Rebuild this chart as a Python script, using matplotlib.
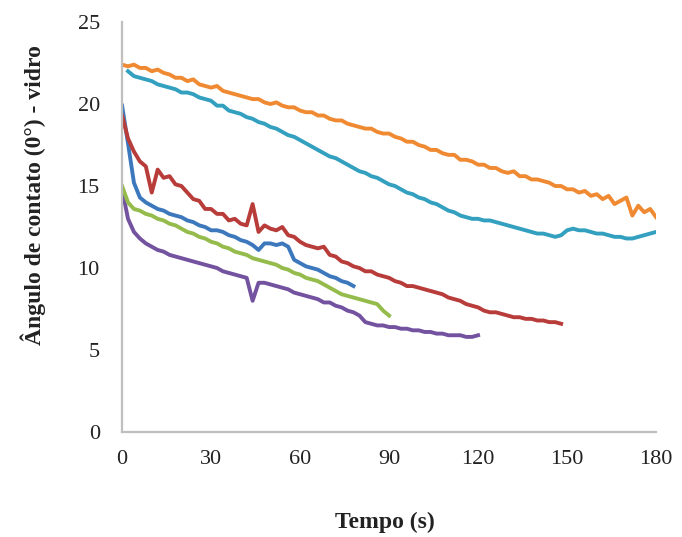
import numpy as np
import matplotlib
matplotlib.use('Agg')
from matplotlib import pyplot as plt

# contact angle on glass (2 s steps)
t_orange = np.arange(0, 181, 2)
orange = [22.4, 22.3, 22.4, 22.2, 22.2, 22.0, 22.1, 21.9, 21.8, 21.6, 21.6,
          21.4, 21.5, 21.2, 21.1, 21.0, 21.1, 20.8, 20.7, 20.6, 20.5,
          20.4, 20.3, 20.3, 20.1, 20.0, 20.1, 19.9, 19.8, 19.8, 19.6,
          19.5, 19.5, 19.3, 19.3, 19.1, 19.0, 19.0, 18.8, 18.7, 18.6,
          18.5, 18.5, 18.3, 18.2, 18.2, 18.0, 17.9, 17.7, 17.7, 17.5,
          17.4, 17.2, 17.2, 17.0, 16.9, 16.9, 16.6, 16.6, 16.5, 16.3,
          16.3, 16.1, 16.1, 15.9, 15.8, 15.9, 15.6, 15.6, 15.4, 15.4,
          15.3, 15.2, 15.0, 15.0, 14.8, 14.8, 14.6, 14.7, 14.4, 14.5,
          14.2, 14.4, 13.9, 14.1, 14.3, 13.2, 13.8, 13.4, 13.6, 13.1]

t_cyan = np.arange(2, 181, 2)
cyan = [22.0, 21.7, 21.6, 21.5, 21.4, 21.2, 21.1, 21.0, 20.9, 20.7,
        20.7, 20.6, 20.4, 20.3, 20.2, 19.9, 19.9, 19.6, 19.5, 19.4,
        19.2, 19.1, 18.9, 18.8, 18.6, 18.5, 18.3, 18.1, 18.0, 17.8,
        17.6, 17.4, 17.2, 17.0, 16.8, 16.7, 16.5, 16.3, 16.1, 15.9,
        15.8, 15.6, 15.5, 15.3, 15.1, 15.0, 14.8, 14.6, 14.5, 14.3,
        14.2, 14.0, 13.9, 13.7, 13.5, 13.4, 13.2, 13.1, 13.0, 13.0,
        12.9, 12.9, 12.8, 12.7, 12.6, 12.5, 12.4, 12.3, 12.2, 12.1,
        12.1, 12.0, 11.9, 12.0, 12.3, 12.4, 12.3, 12.3, 12.2, 12.1,
        12.1, 12.0, 11.9, 11.9, 11.8, 11.8, 11.9, 12.0, 12.1, 12.2]

t_red = np.arange(0, 149, 2)
red = [19.3, 17.9, 17.1, 16.5, 16.2, 14.6, 16.0, 15.5, 15.6, 15.1, 15.0,
       14.6, 14.2, 14.1, 13.6, 13.6, 13.3, 13.3, 12.9, 13.0, 12.7,
       12.6, 13.9, 12.2, 12.6, 12.4, 12.3, 12.5, 12.0, 11.9, 11.6,
       11.4, 11.3, 11.2, 11.3, 10.8, 10.7, 10.4, 10.3, 10.1, 10.0,
       9.8, 9.8, 9.6, 9.5, 9.4, 9.2, 9.1, 8.9, 8.9, 8.8,
       8.7, 8.6, 8.5, 8.4, 8.2, 8.1, 8.0, 7.8, 7.7, 7.6,
       7.4, 7.3, 7.3, 7.2, 7.1, 7.0, 7.0, 6.9, 6.9, 6.8,
       6.8, 6.7, 6.7, 6.6]

t_blue = np.arange(0, 79, 2)
blue = [19.9, 17.6, 15.2, 14.3, 14.0, 13.8, 13.6, 13.5, 13.3, 13.2,
        13.1, 12.9, 12.8, 12.6, 12.5, 12.3, 12.3, 12.2, 12.0, 11.9,
        11.7, 11.6, 11.4, 11.1, 11.5, 11.5, 11.4, 11.5, 11.3, 10.5,
        10.3, 10.1, 10.0, 9.9, 9.7, 9.5, 9.4, 9.2, 9.1, 8.9]

t_green = np.arange(0, 91, 2)
green = [15.0, 14.0, 13.6, 13.5, 13.3, 13.2, 13.0, 12.9, 12.7, 12.6,
         12.4, 12.2, 12.1, 11.9, 11.8, 11.6, 11.5, 11.3, 11.2, 11.0,
         10.9, 10.8, 10.6, 10.5, 10.4, 10.3, 10.2, 10.0, 9.9, 9.7,
         9.6, 9.4, 9.3, 9.2, 9.0, 8.8, 8.6, 8.4, 8.3, 8.2,
         8.1, 8.0, 7.9, 7.8, 7.4, 7.1]

t_purple = np.arange(0, 121, 2)
purple = [14.8, 13.0, 12.2, 11.8, 11.5, 11.3, 11.1, 11.0, 10.8, 10.7,
          10.6, 10.5, 10.4, 10.3, 10.2, 10.1, 10.0, 9.8, 9.7, 9.6,
          9.5, 9.4, 8.0, 9.1, 9.1, 9.0, 8.9, 8.8, 8.7, 8.5,
          8.4, 8.3, 8.2, 8.1, 7.9, 7.9, 7.7, 7.6, 7.4, 7.3,
          7.1, 6.7, 6.6, 6.5, 6.5, 6.4, 6.4, 6.3, 6.3, 6.2,
          6.2, 6.1, 6.1, 6.0, 6.0, 5.9, 5.9, 5.9, 5.8, 5.8, 5.9]

x_ticks = [0, 30, 60, 90, 120, 150, 180]
y_ticks = [0, 5, 10, 15, 20, 25]

plt.rcParams['font.family'] = ['Liberation Serif', 'DejaVu Serif']

fig = plt.figure(figsize=(6.82, 5.37), dpi=100)
ax = fig.add_axes([0.179, 0.1955, 0.783, 0.7635])

lw = 2.8
ax.plot(t_purple, purple, color='#7352a0', lw=lw)
ax.plot(t_green, green, color='#94bb4c', lw=lw)
ax.plot(t_blue, blue, color='#3d78bd', lw=lw)
ax.plot(t_red, red, color='#b83c3a', lw=lw)
ax.plot(t_cyan, cyan, color='#33a0c0', lw=lw)
ax.plot(t_orange, orange, color='#f08a32', lw=lw)

ax.set_xlim(0, 180)
ax.set_ylim(0, 25)
ax.set_xticks(x_ticks)
ax.set_yticks(y_ticks)
ax.tick_params(length=0, labelsize=16, colors='#222222')
ax.tick_params(axis='x', pad=13)
ax.tick_params(axis='y', pad=16)

for s in ['top', 'right']:
    ax.spines[s].set_visible(False)
for s in ['left', 'bottom']:
    ax.spines[s].set_color('#bfbfbf')
    ax.spines[s].set_linewidth(1.6)

ax.set_xlabel('Tempo (s)', fontsize=17, fontweight='bold', color='#222222')
ax.set_ylabel('Ângulo de contato (0°) - vidro', fontsize=17, fontweight='bold', color='#222222')
ax.xaxis.set_label_coords(0.4925, -0.195)
ax.yaxis.set_label_coords(-0.142, 0.577)

fig.savefig('out.png', dpi=100)
